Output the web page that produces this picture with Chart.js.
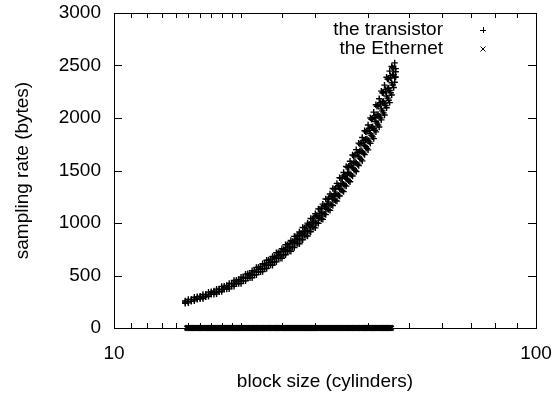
<!DOCTYPE html>
<html>
<head>
<meta charset="utf-8">
<script src="https://cdn.jsdelivr.net/npm/chart.js@4/dist/chart.umd.min.js"></script>
<style>
html,body{margin:0;padding:0;background:#fff;}
#wrap{width:559px;height:395px;position:relative;}
</style>
</head>
<body>
<div id="wrap"><canvas id="c" width="559" height="395"></canvas></div>
<script>
// ---- data ----
const seriesNames = ["the transistor", "the Ethernet"];
const xTitle = "block size (cylinders)";
const yTitle = "sampling rate (bytes)";
const xTickLabels = [10, 100];
const yTickValues = [0, 500, 1000, 1500, 2000, 2500, 3000];

// "the transistor": the cloud read as upper edge, middle and lower edge at each block size
const transistorX = [14.75,15.0,15.25,15.5,15.75,16.0,16.25,16.5,16.75,17.0,17.25,17.5,17.75,18.0,18.25,18.5,18.75,19.0,19.25,19.5,19.75,20.0,20.25,20.5,20.75,21.0,21.25,21.5,21.75,22.0,22.25,22.5,22.75,23.0,23.25,23.5,23.75,24.0,24.25,24.5,24.75,25.0,25.25,25.5,25.75,26.0,26.25,26.5,26.75,27.0,27.25,27.5,27.75,28.0,28.25,28.5,28.75,29.0,29.25,29.5,29.75,30.0,30.25,30.5,30.75,31.0,31.25,31.5,31.75,32.0,32.25,32.5,32.75,33.0,33.25,33.5,33.75,34.0,34.25,34.5,34.75,35.0,35.25,35.5,35.75,36.0,36.25,36.5,36.75,37.0,37.25,37.5,37.75,38.0,38.25,38.5,38.75,39.0,39.25,39.5,39.75,40.0,40.25,40.5,40.75,41.0,41.25,41.5,41.75,42.0,42.25,42.5,42.75,43.0,43.25,43.5,43.75,44.0,44.25,44.5,44.75,45.0,45.25,45.5,45.75,46.0,46.25,46.5];
const transistorUpper = [258,272,273,293,297,304,319,319,342,346,353,370,370,395,399,406,425,424,452,456,463,483,482,513,516,523,546,543,577,580,587,612,608,645,647,655,682,677,717,718,726,756,749,793,794,802,833,825,873,873,881,914,904,957,956,963,999,988,1043,1042,1049,1088,1074,1135,1132,1140,1180,1165,1229,1225,1233,1276,1260,1329,1323,1330,1377,1358,1431,1425,1432,1481,1460,1538,1530,1536,1588,1565,1648,1639,1645,1699,1674,1761,1751,1758,1815,1786,1879,1868,1873,1933,1902,2001,1988,1993,2056,2022,2126,2112,2116,2183,2145,2256,2239,2243,2313,2273,2388,2370,2374,2446,2404,2490,2480,2470,2525,2470];
const transistorMiddle = [248,251,270,271,286,292,295,316,317,333,339,342,366,365,384,390,393,420,418,438,445,447,477,474,496,503,505,538,534,558,564,565,602,597,622,630,630,670,663,691,698,699,742,734,764,771,770,817,808,839,847,845,896,885,919,926,923,978,965,1002,1009,1005,1064,1050,1089,1096,1091,1154,1138,1179,1186,1180,1247,1230,1273,1279,1273,1344,1324,1371,1377,1369,1445,1423,1472,1477,1468,1549,1525,1577,1582,1571,1658,1630,1685,1690,1678,1769,1738,1797,1801,1788,1884,1851,1912,1916,1901,2002,1967,2031,2035,2018,2125,2087,2153,2157,2138,2251,2210,2280,2283,2262,2381,2336,2410,2412,2389,2440];
const transistorLower = [236,239,254,258,274,277,280,298,301,320,322,325,345,347,369,371,373,396,397,421,423,424,449,450,476,478,479,506,507,535,536,537,566,567,598,599,598,631,630,663,663,663,698,697,733,732,731,769,767,806,805,802,843,840,883,880,876,921,917,962,959,954,1001,997,1046,1041,1035,1086,1080,1132,1127,1120,1174,1167,1222,1215,1208,1265,1257,1316,1308,1299,1360,1351,1413,1403,1393,1458,1448,1514,1503,1491,1560,1547,1618,1606,1592,1665,1651,1726,1711,1696,1773,1758,1836,1820,1804,1884,1868,1951,1933,1915,2000,1982,2068,2049,2029,2119,2098,2189,2169,2146,2241,2219,2314,2290,2340,2390];

// "the Ethernet": all at 0
const ethernetX = [14.9,15.0,15.1,15.2,15.3,15.4,15.5,15.6,15.7,15.8,15.9,16.0,16.1,16.2,16.3,16.4,16.5,16.6,16.7,16.8,16.9,17.0,17.1,17.2,17.3,17.4,17.5,17.6,17.7,17.8,17.9,18.0,18.1,18.2,18.3,18.4,18.5,18.6,18.7,18.8,18.9,19.0,19.1,19.2,19.3,19.4,19.5,19.6,19.7,19.8,19.9,20.0,
20.15,20.3,20.45,20.6,20.75,20.9,21.05,21.2,21.35,21.5,21.65,21.8,21.95,22.1,22.25,22.4,22.55,22.7,22.85,23.0,23.15,23.3,23.45,23.6,23.75,23.9,24.05,24.2,24.35,24.5,24.65,24.8,24.95,25.1,25.25,25.4,25.55,25.7,25.85,26.0,26.15,26.3,26.45,26.6,26.75,26.9,27.05,27.2,27.35,27.5,27.65,27.8,27.95,28.1,28.25,28.4,28.55,28.7,28.85,29.0,29.15,29.3,29.45,29.6,29.75,29.9,
30.1,30.35,30.6,30.85,31.1,31.35,31.6,31.85,32.1,32.35,32.6,32.85,33.1,33.35,33.6,33.85,34.1,34.35,34.6,34.85,35.1,35.35,35.6,35.85,36.1,36.35,36.6,36.85,37.1,37.35,37.6,37.85,38.1,38.35,38.6,38.85,39.1,39.35,39.6,39.85,40.1,40.35,40.6,40.85,41.1,41.35,41.6,41.85,42.1,42.35,42.6,42.85,43.1,43.35,43.6,43.85,44.1,44.35,44.6,44.85,45.1,45.35,45.6,45.85,46.1,46.35,46.6,46.9,47.1];
const ethernetY = [0,0,0,0,0,0,0,0,0,0, 0,0,0,0,0,0,0,0,0,0, 0,0,0,0,0,0,0,0,0,0, 0,0,0,0,0,0,0,0,0,0,
0,0,0,0,0,0,0,0,0,0, 0,0,0,0,0,0,0,0,0,0, 0,0,0,0,0,0,0,0,0,0, 0,0,0,0,0,0,0,0,0,0,
0,0,0,0,0,0,0,0,0,0, 0,0,0,0,0,0,0,0,0,0, 0,0,0,0,0,0,0,0,0,0, 0,0,0,0,0,0,0,0,0,0,
0,0,0,0,0,0,0,0,0,0, 0,0,0,0,0,0,0,0,0,0, 0,0,0,0,0,0,0,0,0,0, 0,0,0,0,0,0,0,0,0,0,
0,0,0,0,0,0,0,0,0,0, 0,0,0,0,0,0,0,0,0,0];

const FONT = "'Liberation Sans', Arial, Helvetica, sans-serif";
const FS = 19;

function pts(xs, ys){ return xs.map((x,i)=>({x:x, y:ys[i]})); }

const frame = {
  id: 'frame',
  afterDraw(chart){
    const ctx = chart.ctx, a = chart.chartArea;
    const xs = chart.scales.x, ys = chart.scales.y;
    ctx.save();
    ctx.strokeStyle = '#000';
    ctx.lineWidth = 1;
    ctx.strokeRect(Math.round(a.left)+0.5, Math.round(a.top)+0.5, Math.round(a.right-a.left), Math.round(a.bottom-a.top));
    ctx.beginPath();
    xs.ticks.forEach(t=>{
      const v = t.value;
      const major = xTickLabels.indexOf(v) >= 0;
      const len = major ? 9 : 5;
      const px = Math.round(xs.getPixelForValue(v)) + 0.5;
      ctx.moveTo(px, a.bottom); ctx.lineTo(px, a.bottom - len);
      ctx.moveTo(px, a.top); ctx.lineTo(px, a.top + len);
    });
    ys.ticks.forEach(t=>{
      const py = Math.round(ys.getPixelForValue(t.value)) + 0.5;
      ctx.moveTo(a.left, py); ctx.lineTo(a.left + 8, py);
      ctx.moveTo(a.right, py); ctx.lineTo(a.right - 8, py);
    });
    ctx.stroke();
    // legend
    ctx.font = FS + 'px ' + FONT;
    ctx.fillStyle = '#000';
    ctx.textAlign = 'right';
    ctx.textBaseline = 'middle';
    const rows = [30, 49];
    const mx = 483;
    seriesNames.forEach((n,i)=>{ ctx.fillText(n, 443, rows[i]); });
    ctx.beginPath();
    ctx.moveTo(mx-3, rows[0]+0.5); ctx.lineTo(mx+3, rows[0]+0.5);
    ctx.moveTo(mx+0.5, rows[0]-3); ctx.lineTo(mx+0.5, rows[0]+3);
    ctx.moveTo(mx-2.5, rows[1]-2.5); ctx.lineTo(mx+2.5, rows[1]+2.5);
    ctx.moveTo(mx-2.5, rows[1]+2.5); ctx.lineTo(mx+2.5, rows[1]-2.5);
    ctx.stroke();
    ctx.restore();
  }
};

new Chart(document.getElementById('c'), {
  type: 'scatter',
  data: {
    datasets: [
      { label: seriesNames[0], data: pts(transistorX, transistorUpper).concat(pts(transistorX, transistorMiddle), pts(transistorX, transistorLower)), pointStyle: 'cross', pointRadius: 3.2, borderColor: '#000', backgroundColor: '#000', borderWidth: 1.4, clip: false },
      { label: seriesNames[1], data: pts(ethernetX, ethernetY), pointStyle: 'crossRot', pointRadius: 3.5, borderColor: '#000', backgroundColor: '#000', borderWidth: 2.2, clip: false }
    ]
  },
  options: {
    responsive: false,
    animation: false,
    events: [],
    layout: { padding: { top: 13, right: 23, left: 0, bottom: 0 } },
    plugins: { legend: { display: false }, tooltip: { enabled: false } },
    scales: {
      x: {
        type: 'logarithmic', min: 10, max: 100,
        grid: { display: false, drawTicks: false },
        border: { display: false },
        ticks: {
          autoSkip: false, maxRotation: 0, padding: 14, color: '#000',
          font: { family: FONT, size: FS },
          callback: (v) => xTickLabels.indexOf(v) >= 0 ? String(v) : ''
        },
        title: { display: true, text: xTitle, color: '#000', font: { family: FONT, size: FS }, padding: { top: 4, bottom: 2 } },
        afterFit(s){ s.height = 67; s.paddingLeft = 0; s.paddingRight = 0; }
      },
      y: {
        type: 'linear', min: 0, max: 3000,
        afterBuildTicks(s){ s.ticks = yTickValues.map(v=>({value:v})); },
        grid: { display: false, drawTicks: false },
        border: { display: false },
        ticks: { padding: 13, color: '#000', font: { family: FONT, size: FS }, callback: (v) => String(v) },
        title: { display: true, text: yTitle, color: '#000', font: { family: FONT, size: FS }, padding: { top: 11, bottom: 4 } },
        afterFit(s){ s.width = 114; s.paddingTop = 0; s.paddingBottom = 0; }
      }
    }
  },
  plugins: [frame]
});
</script>
</body>
</html>
